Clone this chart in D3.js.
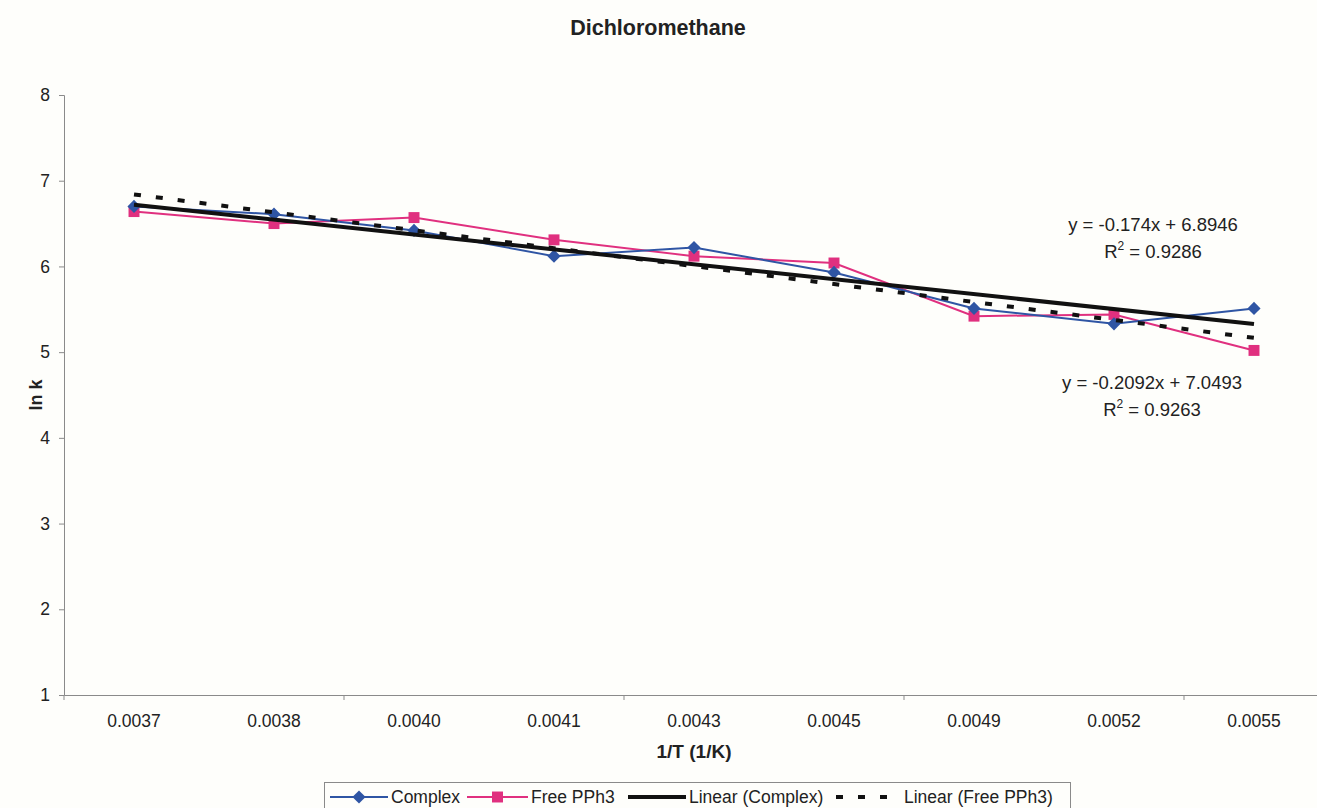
<!DOCTYPE html>
<html>
<head>
<meta charset="utf-8">
<script src="https://cdn.jsdelivr.net/npm/d3@7"></script>
<style>
  html, body { margin: 0; padding: 0; background: #fefefb; }
  svg { display: block; font-family: "Liberation Sans", Arial, sans-serif; }
</style>
</head>
<body>
<svg id="chart" width="1317" height="808"></svg>
<script>
// Reciprocal temperature categories and ln k values
const categories = ["0.0037", "0.0038", "0.0040", "0.0041", "0.0043", "0.0045", "0.0049", "0.0052", "0.0055"];
const complexValues = [6.70, 6.61, 6.42, 6.12, 6.22, 5.93, 5.51, 5.33, 5.51];
const freeValues    = [6.64, 6.50, 6.57, 6.31, 6.12, 6.04, 5.42, 5.44, 5.02];
const yTicks = [1, 2, 3, 4, 5, 6, 7, 8];

// Linear fits (x = category index starting at 1)
const complexFit = { slope: -0.174, intercept: 6.8946, r2: "0.9286", label: "y = -0.174x + 6.8946" };
const freeFit    = { slope: -0.2092, intercept: 7.0493, r2: "0.9263", label: "y = -0.2092x + 7.0493" };

const BLUE = "#2f55a4";
const PINK = "#e0307f";
const TEXT = "#222";
const AXIS = "#8a8a8a";

const svg = d3.select("#chart");

const plot = { left: 64, right: 1324, top: 95, bottom: 695 };

const x = d3.scaleBand().domain(categories).range([plot.left, plot.right]);
const xc = c => x(c) + x.bandwidth() / 2;
const y = d3.scaleLinear().domain([1, 8]).range([plot.bottom, plot.top]);

// Title
svg.append("text")
  .attr("x", 658).attr("y", 35)
  .attr("text-anchor", "middle")
  .attr("font-size", 21.5).attr("font-weight", "bold").attr("fill", TEXT)
  .text("Dichloromethane");

// Y axis
const yAxis = d3.axisLeft(y).tickValues(yTicks).tickSize(5).tickPadding(9).tickFormat(d3.format("d"));
const gy = svg.append("g").attr("transform", `translate(${plot.left},0)`).call(yAxis);
gy.select(".domain").attr("stroke", AXIS);
gy.selectAll(".tick line").attr("stroke", AXIS);
gy.selectAll(".tick text").attr("font-size", 17.5).attr("fill", TEXT)
  .attr("font-family", "Liberation Sans, Arial, sans-serif");

// X axis: labels at category centres, tick marks at every second category boundary
const xAxis = d3.axisBottom(x).tickSize(0).tickPadding(20);
const gx = svg.append("g").attr("transform", `translate(0,${plot.bottom})`).call(xAxis);
gx.select(".domain").attr("stroke", AXIS);
gx.selectAll(".tick text").attr("font-size", 17.5).attr("fill", TEXT)
  .attr("font-family", "Liberation Sans, Arial, sans-serif");
gx.selectAll(".boundary")
  .data(categories.filter((c, i) => i % 2 === 0))
  .enter().append("line")
  .attr("x1", c => x(c)).attr("x2", c => x(c))
  .attr("y1", 0).attr("y2", 5)
  .attr("stroke", AXIS);

// Axis titles
svg.append("text")
  .attr("x", 694).attr("y", 758)
  .attr("text-anchor", "middle")
  .attr("font-size", 19).attr("font-weight", "bold").attr("fill", TEXT)
  .text("1/T (1/K)");
svg.append("text")
  .attr("transform", "translate(42,395) rotate(-90)")
  .attr("text-anchor", "middle")
  .attr("font-size", 18).attr("font-weight", "bold").attr("fill", TEXT)
  .text("ln k");

// Data series
const line = d3.line().x((d, i) => xc(categories[i])).y(d => y(d));

svg.append("path").datum(freeValues)
  .attr("d", line).attr("fill", "none").attr("stroke", PINK).attr("stroke-width", 2);
svg.append("path").datum(complexValues)
  .attr("d", line).attr("fill", "none").attr("stroke", BLUE).attr("stroke-width", 2);

const diamond = d3.symbol().type(d3.symbolDiamond2).size(110);
const square = d3.symbol().type(d3.symbolSquare).size(120);

svg.selectAll(".pt-free").data(freeValues).enter().append("path")
  .attr("d", square)
  .attr("transform", (d, i) => `translate(${xc(categories[i])},${y(d)})`)
  .attr("fill", PINK);
svg.selectAll(".pt-complex").data(complexValues).enter().append("path")
  .attr("d", diamond)
  .attr("transform", (d, i) => `translate(${xc(categories[i])},${y(d)})`)
  .attr("fill", BLUE);

// Trend lines from the fitted equations
const fitPoints = fit => [1, categories.length].map(k => [xc(categories[k - 1]), y(fit.intercept + fit.slope * k)]);

svg.append("path")
  .attr("d", d3.line()(fitPoints(complexFit)))
  .attr("stroke", "#111").attr("stroke-width", 4).attr("fill", "none");
svg.append("path")
  .attr("d", d3.line()(fitPoints(freeFit)))
  .attr("stroke", "#111").attr("stroke-width", 4).attr("fill", "none")
  .attr("stroke-dasharray", "7,15");

// Equation labels
function fitLabel(fit, cx, baseline) {
  const t = svg.append("text")
    .attr("x", cx).attr("y", baseline)
    .attr("text-anchor", "middle")
    .attr("font-size", 18.5).attr("fill", TEXT);
  t.text(fit.label);
  const r = svg.append("text")
    .attr("x", cx).attr("y", baseline + 27)
    .attr("text-anchor", "middle")
    .attr("font-size", 18.5).attr("fill", TEXT);
  r.append("tspan").text("R");
  r.append("tspan").attr("dy", -8).attr("font-size", 12).text("2");
  r.append("tspan").attr("dy", 8).text(" = " + fit.r2);
}
fitLabel(complexFit, 1153, 231);
fitLabel(freeFit, 1152, 389);

// Legend
const lg = svg.append("g");
lg.append("rect")
  .attr("x", 324.5).attr("y", 782.5).attr("width", 746).attr("height", 34)
  .attr("fill", "#fefefb").attr("stroke", AXIS);

const legendItems = [
  { name: "Complex", x0: 330, x1: 388, tx: 391, color: BLUE, marker: diamond },
  { name: "Free PPh3", x0: 467, x1: 528, tx: 531, color: PINK, marker: square },
  { name: "Linear (Complex)", x0: 628, x1: 686, tx: 689, color: "#111", width: 4 },
  { name: "Linear (Free PPh3)", x0: 836, x1: 898, tx: 904, color: "#111", width: 4, dash: "7,15" }
];
const ly = 797;
legendItems.forEach(it => {
  lg.append("line")
    .attr("x1", it.x0).attr("x2", it.x1).attr("y1", ly).attr("y2", ly)
    .attr("stroke", it.color).attr("stroke-width", it.width || 2)
    .attr("stroke-dasharray", it.dash || null);
  if (it.marker) {
    lg.append("path").attr("d", it.marker)
      .attr("transform", `translate(${(it.x0 + it.x1) / 2},${ly})`)
      .attr("fill", it.color);
  }
  lg.append("text")
    .attr("x", it.tx).attr("y", ly + 6)
    .attr("font-size", 17.5).attr("fill", TEXT)
    .text(it.name);
});
</script>
</body>
</html>
